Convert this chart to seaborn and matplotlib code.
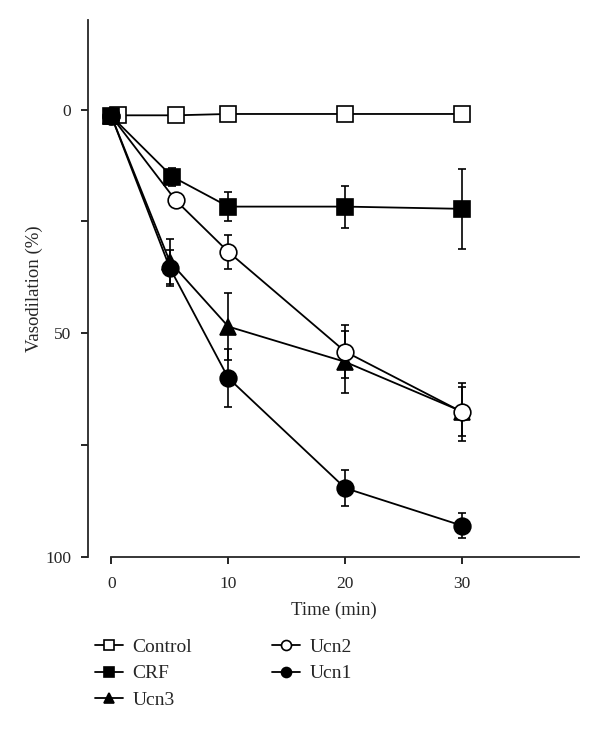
import matplotlib
matplotlib.use("Agg")
import matplotlib.pyplot as plt
import seaborn as sns
import pandas as pd

# ---- data ----
series_names = ["Control", "CRF", "Ucn3", "Ucn2", "Ucn1"]
time_control = [0.6, 5.5, 10, 20, 30]
val_control = [1.3, 1.3, 1.0, 1.0, 1.0]
err_control = [0, 0, 0, 0, 0]

time_crf = [0, 5.2, 10, 20, 30]
val_crf = [1.5, 15.0, 21.7, 21.7, 22.2]
err_crf = [0, 2.0, 3.3, 4.7, 9.0]

time_ucn3 = [0, 5, 10, 20, 30]
val_ucn3 = [1.5, 34.0, 48.5, 56.4, 67.5]
err_ucn3 = [0, 5.0, 7.5, 7.0, 5.5]

time_ucn2 = [0, 5.5, 10, 20, 30]
val_ucn2 = [1.5, 20.3, 31.8, 54.1, 67.6]
err_ucn2 = [0, 0, 3.8, 6.0, 6.5]

time_ucn1 = [0, 5, 10, 20, 30]
val_ucn1 = [1.5, 35.4, 60.0, 84.6, 93.0]
err_ucn1 = [0, 4.0, 6.5, 4.0, 2.8]

y_ticks = [0, 25, 50, 75, 100]
y_ticklabels = ["0", "", "50", "", "100"]
x_ticks = [0, 10, 20, 30]

sns.set_style("ticks")
plt.rcParams["font.family"] = ["Liberation Serif", "DejaVu Serif"]

fig = plt.figure(figsize=(6.0, 7.3), dpi=100)
ax = fig.add_axes([88 / 600, 1 - 557 / 730, 491 / 600, 537 / 730])

styles = {
    "Control": dict(marker="s", mfc="white"),
    "CRF": dict(marker="s", mfc="black"),
    "Ucn3": dict(marker="^", mfc="black"),
    "Ucn2": dict(marker="o", mfc="white"),
    "Ucn1": dict(marker="o", mfc="black"),
}
sizes = {"s": 11, "^": 11, "o": 12}

data = {
    "Control": (time_control, val_control, err_control),
    "CRF": (time_crf, val_crf, err_crf),
    "Ucn3": (time_ucn3, val_ucn3, err_ucn3),
    "Ucn2": (time_ucn2, val_ucn2, err_ucn2),
    "Ucn1": (time_ucn1, val_ucn1, err_ucn1),
}

for i, name in enumerate(series_names):
    t, v, e = data[name]
    df = pd.DataFrame({"t": t, "v": v})
    ax.errorbar(t, v, yerr=e, fmt="none", ecolor="black", elinewidth=1.2,
                capsize=3, capthick=1.2, zorder=2)
    st = styles[name]
    sns.lineplot(data=df, x="t", y="v", ax=ax, color="black", linewidth=1.3,
                 marker=st["marker"], markersize=sizes[st["marker"]],
                 markerfacecolor=st["mfc"], markeredgecolor="black",
                 markeredgewidth=1.2, label=name, zorder=3 + i, legend=False)

ax.set_xlim(-2, 40)
ax.set_ylim(100, -20)
ax.set_yticks(y_ticks)
ax.set_yticklabels(y_ticklabels)
ax.set_xticks(x_ticks)
ax.tick_params(axis="both", labelsize=12.5, length=5, width=1.2, color="black")
ax.tick_params(axis="x", pad=9)
ax.tick_params(axis="y", pad=7)
for s in ["top", "right"]:
    ax.spines[s].set_visible(False)
ax.spines["left"].set_linewidth(1.3)
ax.spines["bottom"].set_linewidth(1.3)
ax.spines["bottom"].set_bounds(0, 40)
ax.set_xlabel("Time (min)", fontsize=13.5, labelpad=7)
ax.set_ylabel("Vasodilation (%)", fontsize=13.5, labelpad=2)

handles, labels = ax.get_legend_handles_labels()
order = [labels.index(n) for n in series_names]
fig.legend([handles[k] for k in order], [labels[k] for k in order],
           loc="upper left", bbox_to_anchor=(77 / 600, 1 - 621 / 730),
           ncol=2, frameon=False, fontsize=14, markerscale=0.6,
           handlelength=1.45, handletextpad=0.5, columnspacing=4.1,
           labelspacing=0.45)

fig.savefig("out.png", dpi=100)
